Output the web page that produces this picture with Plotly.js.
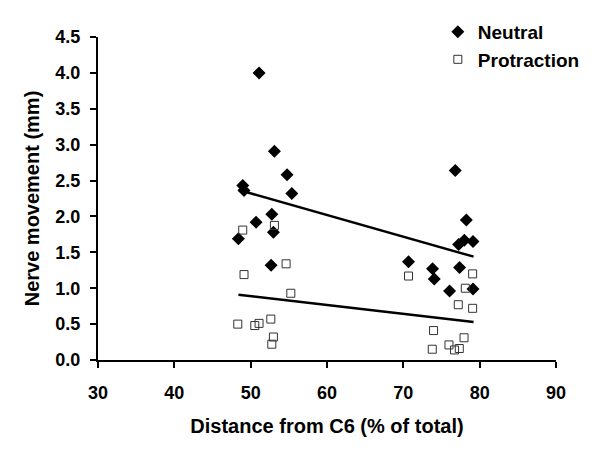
<!DOCTYPE html>
<html><head><meta charset="utf-8">
<script src="https://cdn.plot.ly/plotly-3.0.1.min.js"></script>
<style>html,body{margin:0;padding:0;background:#fff}#chart{width:600px;height:452px}</style>
</head><body><div id="chart"></div>
<script>
var neutralX = [48.96,49.13,55.39,52.77,50.71,52.98,48.39,52.68,51.1,53.11,54.77,76.8,78.25,77.24,77.99,79.13,70.68,73.83,74.05,77.37,76.06,79.13];
var neutralY = [2.43,2.36,2.32,2.03,1.92,1.78,1.69,1.32,4.0,2.91,2.58,2.64,1.95,1.61,1.67,1.65,1.37,1.27,1.13,1.29,0.96,0.99];
var protX = [48.96,53.11,54.64,49.13,55.26,48.31,50.54,51.1,52.64,52.98,52.77,70.68,79.08,78.12,77.2,79.08,73.96,73.79,75.98,76.71,77.33,77.95];
var protY = [1.81,1.875,1.34,1.19,0.93,0.5,0.48,0.51,0.57,0.32,0.22,1.17,1.2,1.0,0.77,0.72,0.41,0.15,0.21,0.14,0.16,0.31];
var trendX = [48.4,79.2];
var neutralTrend = [2.37,1.44];
var protTrend = [0.91,0.53];
var xTicks = [30,40,50,60,70,80,90];
var yTicks = [0,0.5,1,1.5,2,2.5,3,3.5,4,4.5];
var yTickText = yTicks.map(function(v){return v.toFixed(1);});

var F = 'Liberation Sans, Arial, sans-serif';
var traces = [
 {x:neutralX,y:neutralY,mode:'markers',type:'scatter',name:'Neutral',
  marker:{symbol:'diamond',size:10,color:'#000'}},
 {x:protX,y:protY,mode:'markers',type:'scatter',name:'Protraction',
  marker:{symbol:'square-open',size:8,color:'#333',line:{width:1,color:'#333'}}},
 {x:trendX,y:neutralTrend,mode:'lines',type:'scatter',showlegend:false,hoverinfo:'skip',
  line:{color:'#000',width:2.5}},
 {x:trendX,y:protTrend,mode:'lines',type:'scatter',showlegend:false,hoverinfo:'skip',
  line:{color:'#000',width:2.5}}
];
var layout = {
 width:600,height:452,
 margin:{l:98,r:44,t:37,b:92},
 paper_bgcolor:'#fff',plot_bgcolor:'#fff',
 font:{family:F,color:'#000'},
 showlegend:true,
 legend:{x:0.742,y:1.075,xanchor:'left',yanchor:'top',font:{family:F,size:19,weight:'bold'},
  bgcolor:'rgba(0,0,0,0)',itemwidth:30},
 xaxis:{range:[30,90],tickvals:xTicks,ticktext:xTicks.map(String),showgrid:false,zeroline:false,
  showline:true,linecolor:'#000',linewidth:2,ticks:'outside',ticklen:6,tickwidth:2,tickcolor:'#000',
  ticklabelstandoff:9,
  tickfont:{family:F,size:18,weight:'bold'},
  title:{text:'Distance from C6 (% of total)',font:{family:F,size:20,weight:'bold'},standoff:17}},
 yaxis:{range:[0,4.5],tickvals:yTicks,ticktext:yTickText,showgrid:false,zeroline:false,
  showline:true,linecolor:'#000',linewidth:2,ticks:'outside',ticklen:6,tickwidth:2,tickcolor:'#000',
  ticklabelstandoff:6,
  tickfont:{family:F,size:18,weight:'bold'},
  title:{text:'Nerve movement (mm)',font:{family:F,size:20,weight:'bold'},standoff:10}}
};
Plotly.newPlot('chart',traces,layout,{displayModeBar:false,staticPlot:true});
</script></body></html>
